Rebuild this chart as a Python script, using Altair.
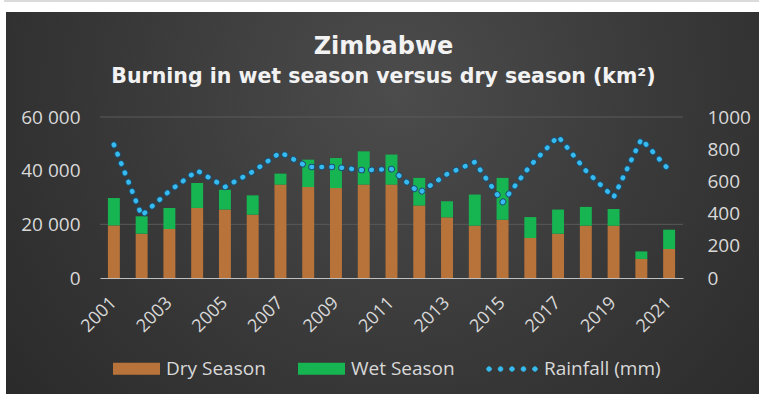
import altair as alt
import pandas as pd

# ---- data -------------------------------------------------------------
years = list(range(2001, 2022))
dry_season = [19600, 16500, 18300, 26100, 25500, 23600, 34800, 33900, 33500, 34800,
              34800, 27000, 22600, 19500, 21700, 14900, 16500, 19500, 19500, 7100, 10800]
wet_season = [10200, 6500, 7800, 9300, 7400, 7200, 4100, 10200, 11200, 12400,
              11200, 10300, 6000, 11600, 15600, 7800, 9000, 7000, 6200, 2800, 7200]
rainfall_mm = [828, 388, 540, 667, 565, 660, 780, 689, 689, 669,
               677, 528, 645, 720, 470, 698, 880, 667, 501, 863, 670]

season_names = ["Dry Season", "Wet Season"]
season_colors = ["#B8733A", "#16B552"]
rain_name = "Rainfall (mm)"
rain_color = "#35BBEF"

left_ticks = [0, 20000, 40000, 60000]
right_ticks = [0, 200, 400, 600, 800, 1000]
year_ticks = years[::2]

bars_df = pd.DataFrame({
    "year": years * 2,
    "season": [season_names[0]] * len(years) + [season_names[1]] * len(years),
    "area": dry_season + wet_season,
    "stack_order": [0] * len(years) + [1] * len(years),
})
rain_df = pd.DataFrame({"year": years, "rain": rainfall_mm, "series": rain_name})
grid_df = pd.DataFrame({"area": left_ticks[1:]})

# ---- layout ------------------------------------------------------------
W, H = 583, 161
PAD = {"left": 100, "top": 117, "right": 76, "bottom": 116}

LABEL = "#D9D9D9"
FONT = "Open Sans"

# dark panel with a soft radial glow
panel = alt.Chart(pd.DataFrame({"k": [0]})).mark_rect(
    color=alt.Gradient(
        gradient="radial",
        stops=[alt.GradientStop(color="#4c4c4c", offset=0),
               alt.GradientStop(color="#383838", offset=0.5),
               alt.GradientStop(color="#262626", offset=1)],
        x1=0.52, y1=0.35, x2=0.52, y2=0.35, r1=0, r2=0.75,
    )
).encode(
    x=alt.value(-94), x2=alt.value(W + PAD["right"]),
    y=alt.value(-105), y2=alt.value(H + PAD["bottom"]),
)

edge = alt.Chart(pd.DataFrame({"k": [0]})).mark_rule(color="#cfcfcf", strokeWidth=1.5).encode(
    x=alt.value(-96), x2=alt.value(W + PAD["right"]), y=alt.value(-116)
)

x_enc = alt.X(
    "year:O",
    scale=alt.Scale(paddingInner=0.57, paddingOuter=0.285),
    axis=alt.Axis(
        orient="bottom", values=year_ticks, title=None, labelAngle=-45,
        labelAlign="right", labelBaseline="middle", labelPadding=22,
        ticks=False, grid=False, domainColor="#BFBFBF", domainWidth=1.2,
        labelColor=LABEL, labelFontSize=18, labelFont=FONT, zindex=1,
    ),
)

left_axis = alt.Axis(
    orient="left", values=left_ticks, title=None, grid=False, domain=False,
    ticks=False, labelPadding=20, labelColor=LABEL, labelFontSize=19,
    labelFont=FONT, zindex=1,
    labelExpr="replace(format(datum.value, ','), ',', ' ')",
)
y_area = alt.Y("area:Q", stack="zero",
               scale=alt.Scale(domain=[0, 60000], nice=False), axis=left_axis)

grid = alt.Chart(grid_df).mark_rule(color="#5a5a5a", strokeWidth=1).encode(
    y=y_area, x=alt.value(0), x2=alt.value(W),
)

bar_symbol = "M-1,-0.255H1V0.255H-1Z"
bars = alt.Chart(bars_df).mark_bar().encode(
    x=x_enc,
    y=y_area,
    color=alt.Color(
        "season:N",
        scale=alt.Scale(domain=season_names, range=season_colors),
        legend=alt.Legend(
            title=None, orient="none", legendX=13, legendY=228, direction="horizontal",
            symbolType=bar_symbol, symbolSize=47 * 47, symbolStrokeWidth=0,
            labelOffset=6, columnPadding=32, labelColor=LABEL, labelFontSize=19,
            labelFont=FONT,
        ),
    ),
    order=alt.Order("stack_order:Q"),
)

# five round dots for the rainfall key
r = 0.09
dots = "".join(
    f"M{cx - r:.3f},0A{r},{r} 0 1,0 {cx + r:.3f},0A{r},{r} 0 1,0 {cx - r:.3f},0Z"
    for cx in [-0.9, -0.45, 0.0, 0.45, 0.9]
)

y_rain = alt.Y(
    "rain:Q",
    scale=alt.Scale(domain=[0, 1000], nice=False),
    axis=alt.Axis(
        orient="right", values=right_ticks, title=None, grid=False, domain=False,
        ticks=False, labelPadding=24, labelColor=LABEL, labelFontSize=19,
        labelFont=FONT, zindex=1, format="d",
    ),
)

rain_shadow = alt.Chart(rain_df).mark_line(
    color="#1d4f70", strokeWidth=6.5, strokeCap="round", strokeDash=[0.5, 9.5]
).encode(x=x_enc, y=y_rain)

rain = alt.Chart(rain_df).mark_line(
    strokeWidth=4.6, strokeCap="round", strokeDash=[0.5, 9.5]
).encode(
    x=x_enc, y=y_rain,
    stroke=alt.Stroke(
        "series:N",
        scale=alt.Scale(domain=[rain_name], range=[rain_color]),
        legend=alt.Legend(
            title=None, orient="none", legendX=386, legendY=226,
            symbolType=dots, symbolSize=51 * 51, symbolFillColor=rain_color,
            symbolStrokeWidth=1, symbolDash=[1, 0], labelOffset=6,
            labelColor=LABEL, labelFontSize=19, labelFont=FONT,
        ),
    ),
)

chart = alt.layer(
    panel, edge, alt.layer(grid, bars), alt.layer(rain_shadow, rain)
).resolve_scale(y="independent").properties(
    width=W, height=H,
    padding=PAD,
    autosize=alt.AutoSizeParams(type="none"),
    background="white",
    title=alt.TitleParams(
        "Zimbabwe",
        subtitle="Burning in wet season versus dry season (km²)",
        anchor="middle", frame="group", dx=-8, offset=-132,
        font="DejaVu Sans", fontSize=24, fontWeight="bold", color="#F2F2F2",
        subtitleFont="DejaVu Sans", subtitleFontSize=20.5, subtitleFontWeight="bold",
        subtitleColor="#F2F2F2", subtitlePadding=8,
    ),
).configure_view(stroke=None)

chart.save("out.html", embed_options={"renderer": "svg", "actions": False})
